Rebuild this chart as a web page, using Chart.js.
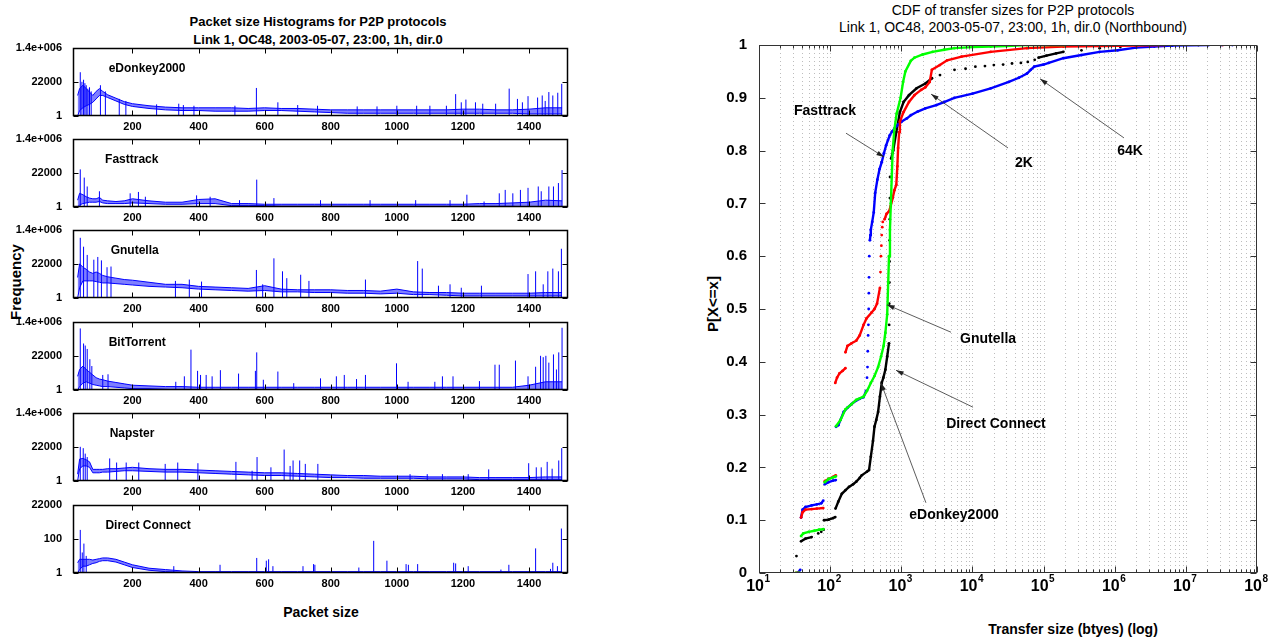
<!DOCTYPE html>
<html>
<head>
<meta charset="utf-8">
<title>P2P packet sizes and transfer sizes</title>
<script src="https://cdn.jsdelivr.net/npm/chart.js@4.4.1/dist/chart.umd.min.js"></script>
<style>
  html, body { margin: 0; padding: 0; background: #fff; }
  #page { position: relative; width: 1269px; height: 640px; overflow: hidden; color: #000;
          font-family: 'Liberation Sans Narrow', 'Liberation Sans', Arial, sans-serif; }
  canvas { position: absolute; }
  .txt { position: absolute; white-space: nowrap; transform: translate(-50%, -50%); font-weight: bold; }
  .rot { font-family: 'Liberation Sans', Arial, sans-serif; transform: translate(-50%, -50%) rotate(-90deg); }
</style>
</head>
<body>
<div id="page">
  <div class="txt" style="left:318px;top:21px;font-size:13px">Packet size Histograms for P2P protocols</div>
  <div class="txt" style="left:318px;top:39px;font-size:13px">Link 1, OC48, 2003-05-07, 23:00, 1h, dir.0</div>
  <div class="txt rot" style="left:15px;top:282px;font-size:15px">Frequency</div>
  <div class="txt" style="left:321px;top:612px;font-size:14px">Packet size</div>

  <div class="txt" style="left:1013px;top:10px;font-size:14px;font-weight:normal">CDF of transfer sizes for P2P protocols</div>
  <div class="txt" style="left:1013px;top:27px;font-size:14px;font-weight:normal">Link 1, OC48, 2003-05-07, 23:00, 1h, dir.0 (Northbound)</div>
  <div class="txt rot" style="left:712px;top:304px;font-size:15px">P[X&lt;=x]</div>
  <div class="txt" style="left:1073px;top:629px;font-size:14px">Transfer size (btyes) (log)</div>
</div>
<script>
const FONT = "'Liberation Sans Narrow', 'Liberation Sans', Arial, sans-serif";
Chart.defaults.color = "#000";
Chart.defaults.font.family = FONT;
Chart.defaults.animation = false;

// ---- left: packet size histograms (heights are relative positions on each panel's log axis, 0 = bottom, 1 = top)
const sizeSamples = [34, 40, 50, 60, 70, 80, 90, 100, 110, 125, 150, 175, 200, 250, 300, 350, 400, 450, 500, 550,
                     600, 650, 700, 750, 800, 850, 900, 950, 1000, 1050, 1100, 1150, 1200, 1250, 1300, 1350, 1400, 1450, 1500];
const sizeTicks = [200, 400, 600, 800, 1000, 1200, 1400];
const freqTicksBig = ["1", "22000", "1.4e+006"];
const freqTicksDC  = ["1", "100", "22000"];

const edonkeyHi = [.3,.4,.45,.4,.35,.3,.36,.4,.36,.31, .26,.21,.18,.15,.13,.12,.12,.12,.12,.11,
                   .12,.11,.11,.1,.09,.09,.09,.09,.09,.09, .09,.09,.1,.1,.09,.09,.1,.12,.12];
const edonkeyLo = [0,.08,.12,.15,.17,.2,.25,.3,.3,.27, .22,.17,.14,.11,.09,.08,.08,.07,.07,.07,
                   .08,.08,.07,.06,.05,.04,.04,.04,.04,.04, .04,.04,.04,.04,.04,.04,.03,.03,.03];
const edonkeySpikeX = [42,47,52,56,60,65,70,75,103,118, 160,180,273,340,354,386,510,575,640,700,
                       760,880,940,1000,1060,1100,1150,1178,1195,1209, 1238,1260,1299,1340,1365,1380,1397,1426,1440,1449,
                       1460,1472,1487,1499];
const edonkeySpikeH = [.64,.5,.53,.48,.45,.4,.42,.36,.45,.36, .25,.22,.17,.18,.16,.15,.15,.41,.2,.16,
                       .15,.14,.14,.15,.15,.15,.15,.32,.2,.24, .2,.18,.18,.4,.25,.2,.29,.27,.3,.22,
                       .35,.3,.34,.47];

const fasttrackHi = [.1,.2,.18,.15,.13,.12,.12,.14,.1,.09, .08,.09,.12,.09,.07,.07,.11,.12,.05,.05,
                     .04,.04,.04,.04,.04,.04,.04,.04,.04,.04, .04,.04,.04,.05,.05,.06,.07,.1,.09];
const fasttrackLo = [0,.03,.05,.06,.07,.07,.07,.08,.06,.05, .05,.05,.06,.05,.04,.04,.05,.05,.02,.02,
                     .02,.01,.01,.01,.01,.01,.01,.01,.01,.01, .01,.01,.01,.01,.01,.01,0,0,0];
const fasttrackSpikeX = [42,54,63,100,193,218,239,394,435,524, 576,628,769,919,1057,1161,1212,1264,1310,1328,
                         1351,1374,1397,1428,1437,1460,1474,1489,1500];
const fasttrackSpikeH = [.55,.43,.3,.23,.2,.22,.15,.17,.15,.1, .4,.13,.1,.1,.1,.1,.18,.08,.2,.25,
                         .2,.25,.28,.3,.23,.3,.3,.35,.54];

const gnutellaHi = [.3,.5,.45,.42,.38,.36,.38,.36,.33,.31, .29,.27,.26,.23,.2,.2,.17,.16,.15,.14,
                    .18,.13,.12,.12,.12,.11,.11,.1,.13,.09, .08,.08,.07,.07,.07,.07,.07,.08,.08];
const gnutellaLo = [0,.15,.25,.25,.25,.25,.24,.23,.22,.22, .21,.2,.19,.17,.16,.15,.13,.12,.11,.1,
                    .11,.09,.09,.08,.08,.07,.07,.06,.07,.05, .05,.04,.03,.03,.03,.03,.03,.03,.03];
const gnutellaSpikeX = [42,52,63,83,95,106,123,135,330,372, 409,575,594,628,654,667,709,734,905,1063,
                        1077,1126,1161,1195,1256,1397,1420,1443,1457,1472, 1489,1498];
const gnutellaSpikeH = [.88,.75,.63,.56,.6,.55,.45,.46,.25,.27, .24,.41,.2,.58,.39,.29,.34,.25,.27,.54,
                        .43,.18,.2,.15,.18,.35,.39,.2,.39,.43, .39,.72];

const bittorrentHi = [.2,.3,.35,.3,.26,.22,.18,.16,.15,.13, .11,.09,.07,.06,.05,.05,.04,.04,.04,.04,
                      .04,.04,.04,.04,.04,.04,.04,.04,.04,.04, .04,.04,.04,.04,.04,.04,.07,.12,.12];
const bittorrentLo = [0,.05,.1,.12,.1,.08,.07,.06,.05,.05, .04,.03,.02,.02,.01,0,0,0,0,0,
                      0,0,0,0,0,0,0,0,0,0, 0,0,0,0,0,0,0,0,0];
const bittorrentSpikeX = [42,52,57,63,71,77,110,126,331,357, 377,397,406,423,441,466,521,572,576,596,
                          640,688,769,817,841,878,905,999,1034,1115, 1138,1170,1250,1297,1310,1359,1397,1420,1435,1443,
                          1451,1460,1474,1483,1490,1500];
const bittorrentSpikeH = [.9,.68,.65,.6,.45,.35,.22,.23,.12,.2, .59,.28,.22,.22,.2,.29,.24,.28,.55,.15,
                          .27,.1,.17,.2,.22,.16,.22,.39,.12,.12, .2,.2,.13,.37,.37,.43,.2,.34,.5,.48,
                          .5,.4,.52,.3,.55,.91];

const napsterHi = [.1,.32,.33,.31,.28,.17,.17,.17,.17,.18, .18,.19,.2,.18,.17,.17,.16,.15,.14,.13,
                   .12,.12,.11,.1,.09,.08,.08,.07,.07,.07, .06,.06,.06,.05,.05,.05,.05,.06,.06];
const napsterLo = [0,.18,.22,.22,.2,.12,.12,.12,.13,.13, .14,.15,.15,.14,.13,.13,.12,.11,.1,.09,
                   .08,.08,.07,.06,.05,.05,.04,.04,.04,.04, .03,.03,.03,.02,.02,.02,.02,.02,.02];
const napsterSpikeX = [42,51,57,63,131,152,181,219,299,337, 398,513,562,577,619,659,677,686,706,723,
                       761,1040,1092,1138,1216,1278,1399,1422,1437,1455, 1470,1490,1499];
const napsterSpikeH = [.5,.48,.4,.35,.33,.27,.27,.27,.25,.27, .26,.28,.15,.35,.2,.46,.22,.3,.3,.25,
                       .25,.1,.1,.1,.1,.17,.26,.2,.2,.28, .18,.3,.48];

const directHi = [.15,.2,.2,.2,.2,.19,.2,.21,.22,.22, .2,.16,.12,.07,.05,.03,.02,.02,.02,.02,
                  .02,.02,.02,.02,.02,.02,.02,.02,.02,.02, .02,.02,.02,.02,.02,.02,.02,.02,.02];
const directLo = [0,.05,.1,.1,.12,.14,.15,.17,.18,.18, .16,.12,.08,.04,.02,.01,0,0,0,0,
                  0,0,0,0,0,0,0,0,0,0, 0,0,0,0,0,0,0,0,0];
const directSpikeX = [42,48,53,60,325,465,576,605,612,625, 716,748,752,885,930,970,1028,1035,1063,1172,
                      1178,1216,1315,1339,1420,1465,1472,1486,1498];
const directSpikeH = [.63,.3,.43,.25,.1,.12,.22,.18,.2,.1, .1,.13,.12,.08,.47,.18,.13,.12,.13,.15,
                      .14,.1,.05,.12,.36,.06,.15,.1,.65];

const panels = [
  { name: "eDonkey2000",    ticks: freqTicksBig, hi: edonkeyHi,    lo: edonkeyLo,    sx: edonkeySpikeX,    sh: edonkeySpikeH,    at: 128 },
  { name: "Fasttrack",      ticks: freqTicksBig, hi: fasttrackHi,  lo: fasttrackLo,  sx: fasttrackSpikeX,  sh: fasttrackSpikeH,  at: 117 },
  { name: "Gnutella",       ticks: freqTicksBig, hi: gnutellaHi,   lo: gnutellaLo,   sx: gnutellaSpikeX,   sh: gnutellaSpikeH,   at: 134 },
  { name: "BitTorrent",     ticks: freqTicksBig, hi: bittorrentHi, lo: bittorrentLo, sx: bittorrentSpikeX, sh: bittorrentSpikeH, at: 128 },
  { name: "Napster",        ticks: freqTicksBig, hi: napsterHi,    lo: napsterLo,    sx: napsterSpikeX,    sh: napsterSpikeH,    at: 131 },
  { name: "Direct Connect", ticks: freqTicksDC,  hi: directHi,     lo: directLo,     sx: directSpikeX,     sh: directSpikeH,     at: 118 }
];
const panelTops = [46, 137, 228, 320, 411, 503];

// ---- right: CDF of transfer sizes, [bytes, P] pairs, null = gap between runs of points
const fasttrackCdf = [
  [35,0],[38,.006], null,
  [39,.105],[41,.12],[45,.125],[55,.128],[65,.13],[75,.132],[80,.137], null,
  [84,.168],[95,.172],[110,.175],[120,.176], null,
  [121,.277],[130,.28],[140,.29],[155,.305],[175,.313],[200,.32],[230,.326],[260,.33],[295,.333],[320,.345], null,
  [330,.37], null, [335,.39], null, [338,.42], null, [342,.45], null, [345,.47], null, [348,.5], null,
  [350,.53], null, [352,.56], null, [355,.6], null,
  [362,.63],[368,.64],[373,.65],[390,.665],[410,.683],[430,.72],[461,.745],[495,.765],[531,.778],[570,.795],
  [612,.81],[650,.82],[689,.829],[740,.836],[802,.842],[900,.849],[1014,.855],[1200,.861],[1361,.867],[1700,.874],
  [2180,.88],[3098,.886],[4000,.892],[5570,.9],[10040,.908],[18070,.918],[32500,.93],[45000,.938],[58480,.946],[66000,.953],
  [73950,.959],[100000,.963],[118300,.966],[189600,.975],[341000,.981],[614000,.987],[1.1e6,.99],[2e6,.995],[3.6e6,.997],[6.4e6,.999],
  [2.1e7,1], null, [3.2e7,1], null, [4.5e7,1]
];
const gnutellaCdf = [
  [33,0],[36,0], null,
  [39,.105],[41,.115],[45,.12],[55,.121],[65,.122],[80,.123], null,
  [84,.174],[95,.178],[110,.182],[120,.185], null,
  [118,.36],[125,.37],[135,.378],[150,.383],[164,.388], null,
  [164,.418],[175,.43],[200,.435],[233,.44],[260,.45],[295,.47],[324,.482],[380,.493],[420,.5],[456,.51],[501,.54], null,
  [510,.57], null, [518,.6], null, [525,.62], null, [531,.64], null, [540,.655], null, [549,.665], null,
  [583,.67],[620,.68],[672,.685],[710,.695],[756,.71],[800,.725],[851,.735],[880,.77],[902,.805],[934,.835],
  [956,.855],[1076,.873],[1283,.892],[1531,.905],[1900,.915],[2180,.92],[2508,.93],[2691,.953],[3485,.962],[4409,.971],
  [7049,.978],[18070,.987],[58480,.994],[189600,.997],[2e6,.999],[5e6,1], null, [3.3e7,1]
];
const directConnectCdf = [
  [33,0],[37,0], null,
  [39,.07],[42,.075],[50,.078],[60,.08],[70,.082],[80,.083], null,
  [84,.172],[95,.178],[110,.181],[120,.183], null,
  [121,.278],[140,.29],[164,.31],[200,.32],[233,.328],[295,.334],[330,.345],[373,.36],[420,.373],[472,.39],
  [520,.41],[564,.43],[597,.455],[634,.49],[655,.55],[672,.6],[693,.65],[713,.7],[735,.75],[756,.8],
  [800,.84],[860,.87],[978,.9],[1060,.93],[1141,.95],[1361,.97],[1531,.976],[2000,.982],[2754,.987],[4000,.991],
  [5570,.994],[10000,.996],[18070,.997],[30000,.998],[58480,1],[200000,1]
];
const edonkeyCdf = [
  [33.6,.032], null,
  [39,.06],[45,.065],[55,.068], null,
  [68,.075], null, [75,.078], null, [81,.082], null,
  [82,.1],[95,.101],[110,.104],[118,.106], null,
  [119,.122],[130,.135],[146,.15],[165,.157],[184,.163],[210,.168],[233,.173],[260,.18],[278,.185],[330,.192],
  [352,.195],[373,.22],[400,.25],[420,.277],[445,.29],[472,.305],[501,.334],[531,.36],[560,.37],[597,.385],
  [634,.41],[672,.435], null,
  [674,.47], null, [677,.51], null, [680,.55], null, [683,.59], null, [686,.63], null, [689,.67], null,
  [692,.71], null, [695,.75], null,
  [720,.785],[770,.8],[851,.835],[956,.873],[1076,.892],[1283,.905],[1640,.918],[2180,.927],[2700,.937], null,
  [3500,.943], null, [5600,.953], null, [8000,.955], null, [11000,.959], null, [15000,.96], null,
  [20000,.962], null, [27000,.963], null, [36000,.965], null, [48000,.966], null, [60000,.968], null, [75000,.972], null,
  [85000,.976],[110000,.98],[150000,.984],[190000,.987], null,
  [341000,.99], null, [614000,.994], null, [1.2e6,.996], null, [2e6,.997], null, [6.4e6,.999], null, [1.5e7,1]
];
const cdfDecades = [10, 100, 1000, 1e4, 1e5, 1e6, 1e7, 1e8];
const cdfMinorSteps = [2, 3, 4, 5, 6, 7, 8, 9];
const cdfYTicks = [0, 0.1, 0.2, 0.3, 0.4, 0.5, 0.6, 0.7, 0.8, 0.9, 1];

const noteText = ["Fasttrack", "2K", "64K", "Gnutella", "Direct Connect", "eDonkey2000"];
const noteAt   = [[84.7,.875], [53100,.777], [1.64e6,.799], [16600,.443], [21400,.282], [5510,.11]];
const noteFrom = [[167,.833], [31600,.805], [1.35e6,.824], [5000,.456], [10200,.314], [2220,.133]];
const noteTo   = [[571,.788], [2620,.907], [89100,.936], [630,.508], [843,.384], [519,.36]];

// box with inward tick marks (matlab look), optional dotted vertical grid
const boxTicks = {
  id: "boxTicks",
  beforeDatasetsDraw(chart, args, o) {
    if (!o.grid) return;
    const { ctx, chartArea: a, scales: { x } } = chart;
    ctx.save();
    ctx.strokeStyle = "#bdbdbd"; ctx.lineWidth = 1; ctx.setLineDash([1, 3]);
    x.ticks.forEach(t => {
      const px = Math.round(x.getPixelForValue(t.value)) + 0.5;
      if (px < a.left + 2 || px > a.right - 2) return;
      ctx.beginPath(); ctx.moveTo(px, a.top); ctx.lineTo(px, a.bottom); ctx.stroke();
    });
    ctx.restore();
  },
  afterDraw(chart, args, o) {
    const { ctx, chartArea: a, scales: { x, y } } = chart;
    const L = Math.round(a.left) + 0.5, R = Math.round(a.right) - 0.5;
    const T = Math.round(a.top) + 0.5, B = Math.round(a.bottom) - 0.5;
    ctx.save();
    ctx.strokeStyle = o.color || "#000";
    ctx.lineWidth = 1;
    ctx.beginPath();
    x.ticks.forEach(t => {
      const px = Math.round(x.getPixelForValue(t.value)) + 0.5;
      const len = o.major && !o.major.includes(t.value) ? o.minorLen : o.len;
      ctx.moveTo(px, B); ctx.lineTo(px, B - len);
      ctx.moveTo(px, T); ctx.lineTo(px, T + len);
    });
    y.ticks.forEach(t => {
      const py = Math.round(y.getPixelForValue(t.value)) + 0.5;
      ctx.moveTo(L, py); ctx.lineTo(L + o.len, py);
      ctx.moveTo(R, py); ctx.lineTo(R - o.len, py);
    });
    ctx.stroke();
    ctx.lineWidth = o.boxWidth || 1;
    ctx.strokeRect(L, T, R - L, B - T);
    ctx.restore();
  }
};

// text placed in data coordinates
const dataText = {
  id: "dataText",
  afterDatasetsDraw(chart, args, o) {
    const { ctx, scales: { x, y } } = chart;
    ctx.save();
    ctx.fillStyle = "#000";
    if (o.label) {
      ctx.font = "bold 12px " + FONT;
      ctx.textAlign = "left"; ctx.textBaseline = "middle";
      ctx.fillText(o.label, x.getPixelForValue(o.labelAt[0]), y.getPixelForValue(o.labelAt[1]));
    }
    if (o.sizes) {
      // packet size tick labels under the panel
      const B = chart.chartArea.bottom;
      ctx.font = "bold 11px " + FONT;
      ctx.textAlign = "center"; ctx.textBaseline = "middle";
      sizeTicks.forEach(v => ctx.fillText(String(v), x.getPixelForValue(v), B + 11));
    }
    if (o.notes) {
      ctx.strokeStyle = "#333"; ctx.lineWidth = 0.8;
      noteText.forEach((txt, i) => {
        const x0 = x.getPixelForValue(noteFrom[i][0]), y0 = y.getPixelForValue(noteFrom[i][1]);
        const x1 = x.getPixelForValue(noteTo[i][0]),   y1 = y.getPixelForValue(noteTo[i][1]);
        ctx.beginPath(); ctx.moveTo(x0, y0); ctx.lineTo(x1, y1); ctx.stroke();
        const ang = Math.atan2(y1 - y0, x1 - x0);
        ctx.beginPath();
        ctx.moveTo(x1, y1);
        ctx.lineTo(x1 - 8 * Math.cos(ang - 0.3), y1 - 8 * Math.sin(ang - 0.3));
        ctx.lineTo(x1 - 8 * Math.cos(ang + 0.3), y1 - 8 * Math.sin(ang + 0.3));
        ctx.closePath(); ctx.fillStyle = "#222"; ctx.fill();
        ctx.fillStyle = "#000";
        ctx.font = "bold 14px " + FONT;
        ctx.textAlign = "center"; ctx.textBaseline = "middle";
        ctx.fillText(txt, x.getPixelForValue(noteAt[i][0]), y.getPixelForValue(noteAt[i][1]));
      });
    }
    if (o.powers) {
      const B = chart.chartArea.bottom;
      cdfDecades.forEach((v, i) => {
        const px = x.getPixelForValue(v);
        ctx.textBaseline = "middle";
        ctx.font = "bold 16px " + FONT;
        ctx.textAlign = "right";
        ctx.fillText("10", px + 5, B + 14);
        ctx.font = "bold 10px " + FONT;
        ctx.textAlign = "left";
        ctx.fillText(String(i + 1), px + 5.5, B + 6);
      });
    }
    ctx.restore();
  }
};

const page = document.getElementById("page");

function addCanvas(left, top, w, h, z) {
  const cv = document.createElement("canvas");
  cv.width = w; cv.height = h;
  cv.style.left = left + "px"; cv.style.top = top + "px";
  cv.style.width = w + "px"; cv.style.height = h + "px";
  cv.style.zIndex = z;
  page.appendChild(cv);
  return cv;
}

panels.forEach((p, i) => {
  const cv = addCanvas(0, panelTops[i] - 8, 600, 104, 20 - i);
  const spikes = [];
  p.sx.forEach((x, k) => spikes.push({ x, y: 0 }, { x, y: p.sh[k] }, { x, y: null }));
  new Chart(cv, {
    type: "line",
    data: {
      datasets: [
        { data: sizeSamples.map((x, k) => ({ x, y: p.hi[k] })), borderColor: "#0000ff", borderWidth: 1,
          backgroundColor: "rgba(0,0,255,0.5)", fill: "+1", pointRadius: 0, tension: 0 },
        { data: sizeSamples.map((x, k) => ({ x, y: p.lo[k] })), borderColor: "#0000ff", borderWidth: 1,
          fill: false, pointRadius: 0, tension: 0 },
        { data: spikes, borderColor: "#0000ff", borderWidth: 1, fill: false, pointRadius: 0, spanGaps: false }
      ]
    },
    options: {
      responsive: false,
      animation: false,
      layout: { padding: { top: 8, right: 32, left: 0, bottom: 0 } },
      plugins: {
        legend: { display: false }, tooltip: { enabled: false },
        boxTicks: { len: 5, boxWidth: 1.5 },
        dataText: { label: p.name, labelAt: [p.at, 0.69], sizes: true }
      },
      scales: {
        x: {
          type: "linear", min: 20, max: 1518,
          grid: { display: false }, border: { display: false },
          afterBuildTicks: s => { s.ticks = sizeTicks.map(v => ({ value: v })); },
          afterFit: s => { s.height = 26; },
          ticks: { display: false }
        },
        y: {
          min: 0, max: 1,
          grid: { display: false }, border: { display: false },
          afterBuildTicks: s => { s.ticks = [0, 0.5, 1].map(v => ({ value: v })); },
          afterFit: s => { s.width = 73; },
          ticks: { font: { size: 11, weight: "bold" }, padding: 3, callback: (v, k) => p.ticks[k] }
        }
      }
    },
    plugins: [boxTicks, dataText]
  });
});

const cdfGrid = [];
cdfDecades.forEach((d, i) => {
  cdfGrid.push(d);
  if (i < cdfDecades.length - 1) cdfMinorSteps.forEach(m => cdfGrid.push(d * m));
});

const cdfSeries = [
  { name: "Direct Connect", color: "#00ff00", points: directConnectCdf },
  { name: "Gnutella",       color: "#ff0000", points: gnutellaCdf },
  { name: "Fasttrack",      color: "#0000ff", points: fasttrackCdf },
  { name: "eDonkey2000",    color: "#000000", points: edonkeyCdf }
];

new Chart(addCanvas(700, 0, 569, 640, 1), {
  type: "scatter",
  data: {
    datasets: cdfSeries.map(s => ({
      label: s.name,
      data: s.points.map(pt => pt ? { x: pt[0], y: pt[1] } : { x: null, y: null }),
      showLine: true, spanGaps: false, tension: 0,
      borderColor: s.color, backgroundColor: s.color, borderWidth: 2.4,
      pointRadius: 1.4, pointBorderWidth: 0, pointHoverRadius: 0
    }))
  },
  options: {
    responsive: false,
    animation: false,
    layout: { padding: { top: 45, right: 12, left: 0, bottom: 0 } },
    plugins: {
      legend: { display: false }, tooltip: { enabled: false },
      boxTicks: { len: 6, minorLen: 3, major: cdfDecades, grid: true, color: "#333" },
      dataText: { notes: true, powers: true }
    },
    scales: {
      x: {
        type: "logarithmic", min: 10, max: 1e8,
        grid: { display: false }, border: { display: false },
        afterBuildTicks: s => { s.ticks = cdfGrid.map(v => ({ value: v })); },
        afterFit: s => { s.height = 67; },
        ticks: { display: false }
      },
      y: {
        type: "linear", min: 0, max: 1,
        grid: { display: false }, border: { display: false },
        afterBuildTicks: s => { s.ticks = cdfYTicks.map(v => ({ value: v })); },
        afterFit: s => { s.width = 59; },
        ticks: { font: { size: 15, weight: "bold" }, padding: 4, callback: v => String(v) }
      }
    }
  },
  plugins: [boxTicks, dataText]
});
</script>
</body>
</html>
